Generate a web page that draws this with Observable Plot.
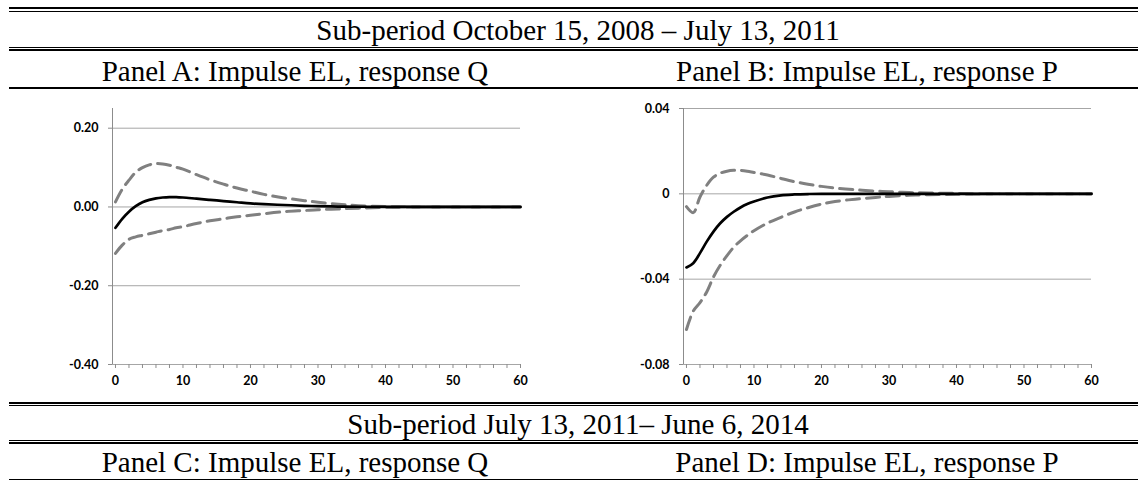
<!DOCTYPE html>
<html>
<head>
<meta charset="utf-8">
<script src="https://cdn.jsdelivr.net/npm/d3@7"></script>
<script src="https://cdn.jsdelivr.net/npm/@observablehq/plot@0.6"></script>
<style>
  html, body { margin: 0; padding: 0; background: #fff; }
  #page { position: relative; width: 1138px; height: 481px; overflow: hidden; background: #fff; }
  .hl { position: absolute; left: 9px; right: 0; background: #000; }
  .ttl { position: absolute; transform: translate(-50%, -50%); white-space: nowrap;
         font-family: "Liberation Serif", "Times New Roman", serif; font-size: 29px; color: #000; }
  .chart { position: absolute; }
</style>
</head>
<body>
<div id="page">
  <div class="hl" style="top:7px;height:2px"></div>
  <div class="hl" style="top:11px;height:1px"></div>
  <div class="ttl" id="t1" style="left:578px;top:30px"></div>
  <div class="hl" style="top:46.5px;height:1.3px"></div>
  <div class="hl" style="top:49px;height:2px"></div>
  <div class="ttl" id="pA" style="left:295px;top:70.5px"></div>
  <div class="ttl" id="pB" style="left:867px;top:70.5px"></div>
  <div class="hl" style="top:87px;height:1.5px"></div>

  <div class="chart" id="chartA" style="left:0;top:100px"></div>
  <div class="chart" id="chartB" style="left:570px;top:100px"></div>

  <div class="hl" style="top:401.5px;height:2px"></div>
  <div class="hl" style="top:404.8px;height:1.2px"></div>
  <div class="ttl" id="t2" style="left:578px;top:424.4px"></div>
  <div class="hl" style="top:440px;height:1.3px"></div>
  <div class="hl" style="top:442.4px;height:2px"></div>
  <div class="ttl" id="pC" style="left:295px;top:462.4px"></div>
  <div class="ttl" id="pD" style="left:867px;top:462.4px"></div>
  <div class="hl" style="top:478.8px;height:1.5px"></div>
</div>
<script>
// ---- Text ----
const periodTitles = ["Sub-period October 15, 2008 \u2013 July 13, 2011", "Sub-period July 13, 2011\u2013 June 6, 2014"];
const panelTitles = ["Panel A: Impulse EL, response Q", "Panel B: Impulse EL, response P",
                     "Panel C: Impulse EL, response Q", "Panel D: Impulse EL, response P"];

// ---- Data (horizon steps and responses) ----
const steps = [0,1,2,3,4,5,6,7,8,9,10,12,14,16,18,20,22,25,28,30,33,36,40,45,50,55,60];

const qResponse = [-0.053,-0.030,-0.012,0.002,0.012,0.018,0.022,0.024,0.025,0.025,0.024,0.021,0.018,0.015,0.012,0.009,0.007,0.005,0.003,0.002,0.001,0.0005,0,0,0,0,0];
const qUpper    = [0.013,0.045,0.068,0.088,0.100,0.107,0.110,0.109,0.106,0.101,0.096,0.082,0.069,0.058,0.048,0.040,0.032,0.023,0.016,0.012,0.007,0.003,0.001,0,0,0,0];
const qLower    = [-0.118,-0.097,-0.082,-0.076,-0.072,-0.068,-0.064,-0.060,-0.057,-0.053,-0.050,-0.042,-0.035,-0.030,-0.025,-0.021,-0.017,-0.012,-0.009,-0.007,-0.005,-0.003,-0.001,0,0,0,0];

const pResponse = [-0.0345,-0.0325,-0.0278,-0.0224,-0.0177,-0.0138,-0.0108,-0.0084,-0.0064,-0.0048,-0.0036,-0.0017,-0.0007,-0.0003,-0.0001,0,0,0,0,0,0,0,0,0,0,0,0];
const pUpper    = [-0.006,-0.0088,-0.0015,0.004,0.0078,0.0097,0.0106,0.011,0.011,0.0106,0.0100,0.0088,0.0072,0.0057,0.0045,0.0035,0.0027,0.0019,0.0013,0.0010,0.0006,0.0004,0.0002,0,0,0,0];
const pLower    = [-0.0636,-0.055,-0.051,-0.046,-0.039,-0.0335,-0.029,-0.025,-0.022,-0.0195,-0.0173,-0.0137,-0.0110,-0.0085,-0.0065,-0.0048,-0.0036,-0.0025,-0.0017,-0.0012,-0.0007,-0.0004,-0.0002,0,0,0,0];

const qTicks = [-0.4, -0.2, 0, 0.2];
const qDomain = [-0.4, 0.25];
const pTicks = [-0.08, -0.04, 0, 0.04];
const pDomain = [-0.08, 0.04];
const xLabelTicks = [0,10,20,30,40,50,60];
const xMinorTicks = d3.range(0, 61, 2);

// ---- Fill titles ----
document.getElementById("t1").textContent = periodTitles[0];
document.getElementById("t2").textContent = periodTitles[1];
["pA","pB","pC","pD"].forEach((id,i) => document.getElementById(id).textContent = panelTitles[i]);

function toRows(vals) { return steps.map((s, i) => ({step: s, value: vals[i]})); }

const xDomain = [-0.44, 60];

function panel(resp, up, lo, yTicks, yDomain, fmt, marginLeft) {
  return Plot.plot({
    width: 540,
    height: 300,
    marginLeft: marginLeft,
    marginRight: 540 - marginLeft - 408,
    marginTop: 8,
    marginBottom: 36,
    style: {fontFamily: "Lato, 'Open Sans', sans-serif", fontSize: "12.5px", fontWeight: "bold", background: "#fff", color: "#000", overflow: "visible"},
    x: {domain: xDomain, axis: null},
    y: {domain: yDomain, axis: null},
    marks: [
      Plot.ruleY(yTicks, {stroke: "#a6a6a6", strokeWidth: 1}),
      Plot.ruleX([xDomain[0]], {stroke: "#8c8c8c", strokeWidth: 1}),
      Plot.axisY({ticks: yTicks, tickSize: 4, tickPadding: 10, stroke: "#8c8c8c", fill: "#000", tickFormat: fmt, anchor: "left", label: null}),
      Plot.axisX({ticks: xMinorTicks, tickSize: 4, tickFormat: () => "", stroke: "#8c8c8c", anchor: "bottom", label: null}),
      Plot.axisX({ticks: xLabelTicks, tickSize: 0, tickPadding: 12, fill: "#000", tickFormat: d => String(d), anchor: "bottom", label: null}),
      Plot.line(toRows(up), {x: "step", y: "value", curve: "catmull-rom", stroke: "#808080", strokeWidth: 3, strokeDasharray: "13,7"}),
      Plot.line(toRows(lo), {x: "step", y: "value", curve: "catmull-rom", stroke: "#808080", strokeWidth: 3, strokeDasharray: "13,7"}),
      Plot.line(toRows(resp), {x: "step", y: "value", curve: "catmull-rom", stroke: "#000", strokeWidth: 2.7})
    ]
  });
}

const fmtQ = d => d.toFixed(2);
const fmtP = d => d === 0 ? "0" : d.toFixed(2);

document.getElementById("chartA").appendChild(panel(qResponse, qUpper, qLower, qTicks, qDomain, fmtQ, 112));
document.getElementById("chartB").appendChild(panel(pResponse, pUpper, pLower, pTicks, pDomain, fmtP, 113));
</script>
</body>
</html>
